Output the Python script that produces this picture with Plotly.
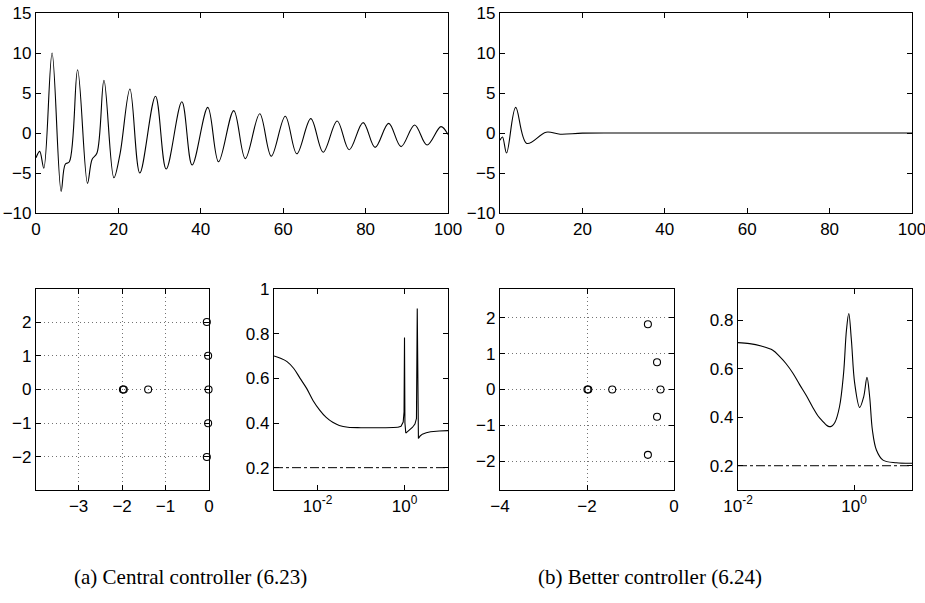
import plotly.graph_objects as go

# ---------------- data ----------------
# (a) central controller: time response (extrema and shoulders)
t_a = [0, 0.9, 1.9, 3.9, 6.1, 7.1, 8.1, 10.1, 12.5, 13.6, 14.8, 16.5, 18.9, 20.4, 22.8,
       25.2, 29.0, 31.6, 35.4, 37.9, 41.7, 44.3, 48.0, 50.8, 54.3, 57.1, 60.5, 63.3,
       66.7, 69.7, 73.1, 76.0, 79.4, 82.3, 85.6, 88.6, 91.9, 94.9, 98.3, 100]
y_a = [-3.1, -2.3, -4.4, 10.0, -7.3, -3.9, -3.6, 7.9, -6.3, -3.3, -2.5, 6.6, -5.6, -2.6, 5.5,
       -5.0, 4.6, -4.5, 3.9, -4.0, 3.2, -3.6, 2.8, -3.2, 2.4, -2.9, 2.1, -2.6,
       1.8, -2.4, 1.5, -2.1, 1.3, -1.8, 1.2, -1.7, 1.0, -1.5, 0.8, -0.2]

# (b) better controller: time response
t_b = [0, 0.6, 1.6, 3.8, 6.5, 11.2, 14.6, 20, 30, 60, 100]
y_b = [-0.9, -0.5, -2.5, 3.2, -1.3, 0.1, -0.15, -0.02, 0.0, 0.0, 0.0]

# closed-loop poles
pole_re_a = [-1.98, -1.96, -1.40, -0.05, -0.02, -0.01, -0.02, -0.05]
pole_im_a = [0, 0, 0, 2.0, 1.0, 0, -1.0, -2.0]
pole_re_b = [-1.99, -1.97, -1.42, -0.31, -0.39, -0.39, -0.60, -0.60]
pole_im_b = [0, 0, 0, 0, 0.76, -0.76, 1.82, -1.82]

# frequency responses (log10 of frequency, magnitude)
# (a): smooth low-frequency part, then the two sharp resonances
logw_a_smooth = [-3.0, -2.85, -2.7, -2.55, -2.4, -2.25, -2.1, -1.95, -1.8, -1.65, -1.5,
                 -1.3, -1.0, -0.5, -0.15]
mag_a_smooth = [0.700, 0.690, 0.675, 0.645, 0.600, 0.555, 0.500, 0.458, 0.425, 0.403, 0.389,
                0.381, 0.379, 0.379, 0.381]
logw_a_peaks = [-0.15, -0.08, -0.03, -0.01, 0.0, 0.01, 0.03, 0.1, 0.18, 0.24,
                0.275, 0.293, 0.30, 0.32, 0.36, 0.41, 0.5, 0.6, 0.8, 1.0]
mag_a_peaks = [0.381, 0.385, 0.404, 0.45, 0.783, 0.40, 0.355, 0.366, 0.38, 0.395,
               0.42, 0.913, 0.50, 0.331, 0.342, 0.35, 0.356, 0.361, 0.364, 0.366]

logw_b = [-2.0, -1.8, -1.6, -1.4, -1.28, -1.17, -1.05, -0.94, -0.82, -0.71, -0.62, -0.53,
          -0.48, -0.43, -0.38, -0.33, -0.25, -0.18, -0.13, -0.09, -0.045, 0.012, 0.098,
          0.167, 0.224, 0.27, 0.317, 0.386, 0.5, 0.73, 1.0]
mag_b = [0.707, 0.703, 0.693, 0.676, 0.649, 0.620, 0.580, 0.535, 0.488, 0.440, 0.405, 0.381,
         0.368, 0.361, 0.364, 0.378, 0.443, 0.58, 0.759, 0.827, 0.718, 0.539, 0.44,
         0.484, 0.564, 0.484, 0.347, 0.265, 0.223, 0.212, 0.21]

bound = 0.2
captions = ["(a) Central controller (6.23)", "(b) Better controller (6.24)"]

# ---------------- figure ----------------
W, H = 925, 603
TICKFONT = dict(family="Liberation Sans, Arial, sans-serif", size=17, color="black")
LINE = dict(color="black", width=1.1)


def dom_x(a, b):
    return [a / W, b / W]


def dom_y(top, bottom):
    return [1 - bottom / H, 1 - top / H]


def axis(domain, anchor, **kw):
    d = dict(domain=domain, anchor=anchor, showline=True, linecolor="black", linewidth=1.2,
             mirror="ticks", ticks="inside", ticklen=5, tickcolor="black",
             tickfont=TICKFONT, zeroline=False, showgrid=False, fixedrange=True,
             automargin=False, ticklabeloverflow="allow")
    d.update(kw)
    return d


fig = go.Figure()

fig.add_trace(go.Scatter(x=t_a, y=y_a, mode="lines", line=dict(shape="spline", **LINE),
                         xaxis="x", yaxis="y"))
fig.add_trace(go.Scatter(x=t_b, y=y_b, mode="lines", line=dict(shape="spline", **LINE),
                         xaxis="x2", yaxis="y2"))
fig.add_trace(go.Scatter(x=pole_re_a, y=pole_im_a, mode="markers", cliponaxis=False,
                         marker=dict(symbol="circle-open", size=7, color="black",
                                     line=dict(width=1.1, color="black")),
                         xaxis="x3", yaxis="y3"))
fig.add_trace(go.Scatter(x=[10 ** e for e in logw_a_smooth], y=mag_a_smooth, mode="lines",
                         line=dict(shape="spline", **LINE), xaxis="x4", yaxis="y4"))
fig.add_trace(go.Scatter(x=[10 ** e for e in logw_a_peaks], y=mag_a_peaks, mode="lines",
                         line=LINE, xaxis="x4", yaxis="y4"))
fig.add_trace(go.Scatter(x=[10 ** -3, 10 ** 1], y=[bound, bound], mode="lines",
                         line=dict(color="black", width=1, dash="dashdot"),
                         xaxis="x4", yaxis="y4"))
fig.add_trace(go.Scatter(x=pole_re_b, y=pole_im_b, mode="markers", cliponaxis=False,
                         marker=dict(symbol="circle-open", size=7, color="black",
                                     line=dict(width=1.1, color="black")),
                         xaxis="x5", yaxis="y5"))
fig.add_trace(go.Scatter(x=[10 ** e for e in logw_b], y=mag_b, mode="lines",
                         line=dict(shape="spline", **LINE), xaxis="x6", yaxis="y6"))
fig.add_trace(go.Scatter(x=[10 ** -2, 10 ** 1], y=[bound, bound], mode="lines",
                         line=dict(color="black", width=1, dash="dashdot"),
                         xaxis="x6", yaxis="y6"))

top = dom_y(13, 213)
bot = dom_y(289, 490)
grid = dict(showgrid=True, gridcolor="rgba(0,0,0,0.55)", griddash="1px,3px", gridwidth=1)
pow_ticks = ["10<sup>-2</sup>", "10<sup>0</sup>"]

fig.update_layout(
    width=W, height=H, showlegend=False,
    paper_bgcolor="white", plot_bgcolor="white",
    margin=dict(l=0, r=0, t=0, b=0, autoexpand=False),
    xaxis=axis(dom_x(36, 448), "y", range=[0, 100], tickvals=[0, 20, 40, 60, 80, 100]),
    yaxis=axis(top, "x", range=[-10, 15], tickvals=[-10, -5, 0, 5, 10, 15]),
    xaxis2=axis(dom_x(500, 912), "y2", range=[0, 100], tickvals=[0, 20, 40, 60, 80, 100]),
    yaxis2=axis(top, "x2", range=[-10, 15], tickvals=[-10, -5, 0, 5, 10, 15]),
    xaxis3=axis(dom_x(36, 209), "y3", range=[-3.98, 0], tickvals=[-3, -2, -1, 0], **grid),
    yaxis3=axis(bot, "x3", range=[-2.98, 2.98], tickvals=[-2, -1, 0, 1, 2], **grid),
    xaxis4=axis(dom_x(274, 448), "y4", type="log", range=[-3, 1], tickvals=[0.01, 1],
                ticktext=pow_ticks),
    yaxis4=axis(bot, "x4", range=[0.1, 1.0], tickvals=[0.2, 0.4, 0.6, 0.8, 1.0],
                ticktext=["0.2", "0.4", "0.6", "0.8", "1"]),
    xaxis5=axis(dom_x(500, 674), "y5", range=[-4, 0], tickvals=[-4, -2, 0], **grid),
    yaxis5=axis(bot, "x5", range=[-2.8, 2.8], tickvals=[-2, -1, 0, 1, 2], **grid),
    xaxis6=axis(dom_x(738, 912), "y6", type="log", range=[-2, 1], tickvals=[0.01, 1],
                ticktext=pow_ticks),
    yaxis6=axis(bot, "x6", range=[0.1, 0.928], tickvals=[0.2, 0.4, 0.6, 0.8]),
)

for cx, txt in zip([190, 650], captions):
    fig.add_annotation(x=cx / W, y=1 - 577 / H, xref="paper", yref="paper", text=txt,
                       showarrow=False, xanchor="center", yanchor="middle",
                       font=dict(family="Liberation Serif, DejaVu Serif, serif", size=21,
                                 color="black"))

fig.write_html("out.html", config={"displayModeBar": False},
               post_script="document.body.style.margin='0';document.body.style.overflow='hidden';")
